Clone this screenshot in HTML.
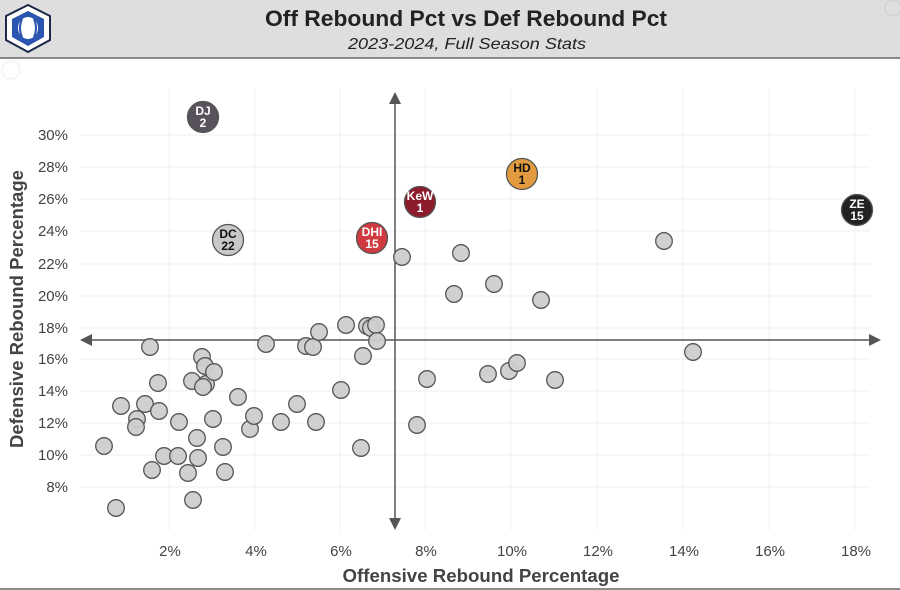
<!DOCTYPE html>
<html><head><meta charset="utf-8"><style>
html,body{margin:0;padding:0;background:#fff;}
svg{display:block;font-family:"Liberation Sans",sans-serif;}
</style></head><body>
<svg width="900" height="590" viewBox="0 0 900 590" xmlns="http://www.w3.org/2000/svg">
<rect x="0" y="0" width="900" height="58" fill="#dedede"/>
<line x1="0" y1="58" x2="900" y2="58" stroke="#666" stroke-width="1.5"/>
<line x1="0" y1="589" x2="900" y2="589" stroke="#666" stroke-width="1.5"/>
<polygon points="28,5 50,16 50,40 28,52 6,40 6,16" fill="#fff" stroke="#1b2a4a" stroke-width="2"/>
<polygon points="28,11 44,19 44,37 28,46 12,37 12,19" fill="#2a55b0"/>
<ellipse cx="28" cy="28" rx="10" ry="11" fill="#fff"/>
<path d="M22,19 Q18,28 22,37 M34,19 Q38,28 34,37" stroke="#2a55b0" stroke-width="2" fill="none"/>
<circle cx="893" cy="8" r="8" fill="none" stroke="#ccc"/>
<circle cx="11" cy="70" r="9" fill="none" stroke="#eee"/>
<text x="466" y="26" text-anchor="middle" font-size="22" font-weight="bold" fill="#222" textLength="402" lengthAdjust="spacingAndGlyphs">Off Rebound Pct vs Def Rebound Pct</text>
<text x="467" y="49" text-anchor="middle" font-size="16" font-style="italic" fill="#222" textLength="238" lengthAdjust="spacingAndGlyphs">2023-2024, Full Season Stats</text>
<g stroke="#efefef" stroke-width="1">
<line x1="169" y1="88" x2="169" y2="530"/><line x1="255" y1="88" x2="255" y2="530"/>
<line x1="340" y1="88" x2="340" y2="530"/><line x1="425" y1="88" x2="425" y2="530"/>
<line x1="511" y1="88" x2="511" y2="530"/><line x1="597" y1="88" x2="597" y2="530"/>
<line x1="683" y1="88" x2="683" y2="530"/><line x1="769" y1="88" x2="769" y2="530"/>
<line x1="855" y1="88" x2="855" y2="530"/>
<line x1="80" y1="135" x2="870" y2="135"/><line x1="80" y1="167" x2="870" y2="167"/>
<line x1="80" y1="199" x2="870" y2="199"/><line x1="80" y1="231" x2="870" y2="231"/>
<line x1="80" y1="264" x2="870" y2="264"/><line x1="80" y1="296" x2="870" y2="296"/>
<line x1="80" y1="328" x2="870" y2="328"/><line x1="80" y1="359" x2="870" y2="359"/>
<line x1="80" y1="391" x2="870" y2="391"/><line x1="80" y1="423" x2="870" y2="423"/>
<line x1="80" y1="455" x2="870" y2="455"/><line x1="80" y1="487" x2="870" y2="487"/>
</g>
<g font-size="15" fill="#444" text-anchor="end">
<text x="68" y="140">30%</text><text x="68" y="172">28%</text><text x="68" y="204">26%</text>
<text x="68" y="236">24%</text><text x="68" y="269">22%</text><text x="68" y="301">20%</text>
<text x="68" y="333">18%</text><text x="68" y="364">16%</text><text x="68" y="396">14%</text>
<text x="68" y="428">12%</text><text x="68" y="460">10%</text><text x="68" y="492">8%</text>
</g>
<g font-size="15" fill="#444" text-anchor="middle">
<text x="170" y="556">2%</text><text x="256" y="556">4%</text><text x="341" y="556">6%</text>
<text x="426" y="556">8%</text><text x="512" y="556">10%</text><text x="598" y="556">12%</text>
<text x="684" y="556">14%</text><text x="770" y="556">16%</text><text x="856" y="556">18%</text>
</g>
<text x="481" y="582" text-anchor="middle" font-size="18" font-weight="bold" fill="#444" textLength="277" lengthAdjust="spacingAndGlyphs">Offensive Rebound Percentage</text>
<text transform="translate(23,309) rotate(-90)" text-anchor="middle" font-size="18" font-weight="bold" fill="#444" textLength="278" lengthAdjust="spacingAndGlyphs">Defensive Rebound Percentage</text>
<g stroke="#555" stroke-width="1.5" fill="#555">
<line x1="395" y1="100" x2="395" y2="522"/>
<polygon points="395,92 389,104 401,104" stroke="none"/>
<polygon points="395,530 389,518 401,518" stroke="none"/>
<line x1="88" y1="340" x2="872" y2="340"/>
<polygon points="80,340 92,334 92,346" stroke="none"/>
<polygon points="881,340 869,334 869,346" stroke="none"/>
</g>
<g fill="#cdcdcd" stroke="#555" stroke-width="1.3" fill-opacity="0.95">
<circle cx="150" cy="347" r="8.3"/><circle cx="104" cy="446" r="8.3"/><circle cx="116" cy="508" r="8.3"/>
<circle cx="121" cy="406" r="8.3"/><circle cx="137" cy="419" r="8.3"/><circle cx="136" cy="427" r="8.3"/>
<circle cx="145" cy="404" r="8.3"/><circle cx="158" cy="383" r="8.3"/><circle cx="159" cy="411" r="8.3"/>
<circle cx="152" cy="470" r="8.3"/><circle cx="164" cy="456" r="8.3"/><circle cx="179" cy="422" r="8.3"/>
<circle cx="178" cy="456" r="8.3"/><circle cx="188" cy="473" r="8.3"/><circle cx="192" cy="381" r="8.3"/>
<circle cx="193" cy="500" r="8.3"/><circle cx="197" cy="438" r="8.3"/><circle cx="198" cy="458" r="8.3"/>
<circle cx="202" cy="357" r="8.3"/><circle cx="205" cy="366" r="8.3"/><circle cx="206" cy="384" r="8.3"/>
<circle cx="203" cy="387" r="8.3"/><circle cx="214" cy="372" r="8.3"/><circle cx="213" cy="419" r="8.3"/>
<circle cx="223" cy="447" r="8.3"/><circle cx="225" cy="472" r="8.3"/><circle cx="238" cy="397" r="8.3"/>
<circle cx="250" cy="429" r="8.3"/><circle cx="254" cy="416" r="8.3"/><circle cx="266" cy="344" r="8.3"/>
<circle cx="281" cy="422" r="8.3"/><circle cx="297" cy="404" r="8.3"/><circle cx="306" cy="346" r="8.3"/>
<circle cx="313" cy="347" r="8.3"/><circle cx="319" cy="332" r="8.3"/><circle cx="316" cy="422" r="8.3"/>
<circle cx="341" cy="390" r="8.3"/><circle cx="346" cy="325" r="8.3"/><circle cx="363" cy="356" r="8.3"/>
<circle cx="361" cy="448" r="8.3"/><circle cx="367" cy="326" r="8.3"/><circle cx="371" cy="328" r="8.3"/>
<circle cx="376" cy="325" r="8.3"/><circle cx="377" cy="341" r="8.3"/><circle cx="402" cy="257" r="8.3"/>
<circle cx="417" cy="425" r="8.3"/><circle cx="427" cy="379" r="8.3"/><circle cx="454" cy="294" r="8.3"/>
<circle cx="461" cy="253" r="8.3"/><circle cx="488" cy="374" r="8.3"/><circle cx="494" cy="284" r="8.3"/>
<circle cx="509" cy="371" r="8.3"/><circle cx="517" cy="363" r="8.3"/><circle cx="541" cy="300" r="8.3"/>
<circle cx="555" cy="380" r="8.3"/><circle cx="664" cy="241" r="8.3"/><circle cx="693" cy="352" r="8.3"/>
</g>
<g stroke="#555" stroke-width="1.3">
<circle cx="203" cy="117" r="15.5" fill="#58525c"/>
<circle cx="228" cy="240" r="15.5" fill="#c8c8c8"/>
<circle cx="372" cy="238" r="15.5" fill="#cf3a40"/>
<circle cx="420" cy="202" r="15.5" fill="#8c1c2c"/>
<circle cx="522" cy="174" r="15.5" fill="#e29b3e"/>
<circle cx="857" cy="210" r="15.5" fill="#222"/>
</g>
<g font-size="12" font-weight="bold" text-anchor="middle">
<text x="203" y="115" fill="#fff">DJ</text><text x="203" y="127" fill="#fff">2</text>
<text x="228" y="238" fill="#111">DC</text><text x="228" y="250" fill="#111">22</text>
<text x="372" y="236" fill="#fff">DHI</text><text x="372" y="248" fill="#fff">15</text>
<text x="420" y="200" fill="#fff">KeW</text><text x="420" y="212" fill="#fff">1</text>
<text x="522" y="172" fill="#111">HD</text><text x="522" y="184" fill="#111">1</text>
<text x="857" y="208" fill="#fff">ZE</text><text x="857" y="220" fill="#fff">15</text>
</g>
</svg>
</body></html>
